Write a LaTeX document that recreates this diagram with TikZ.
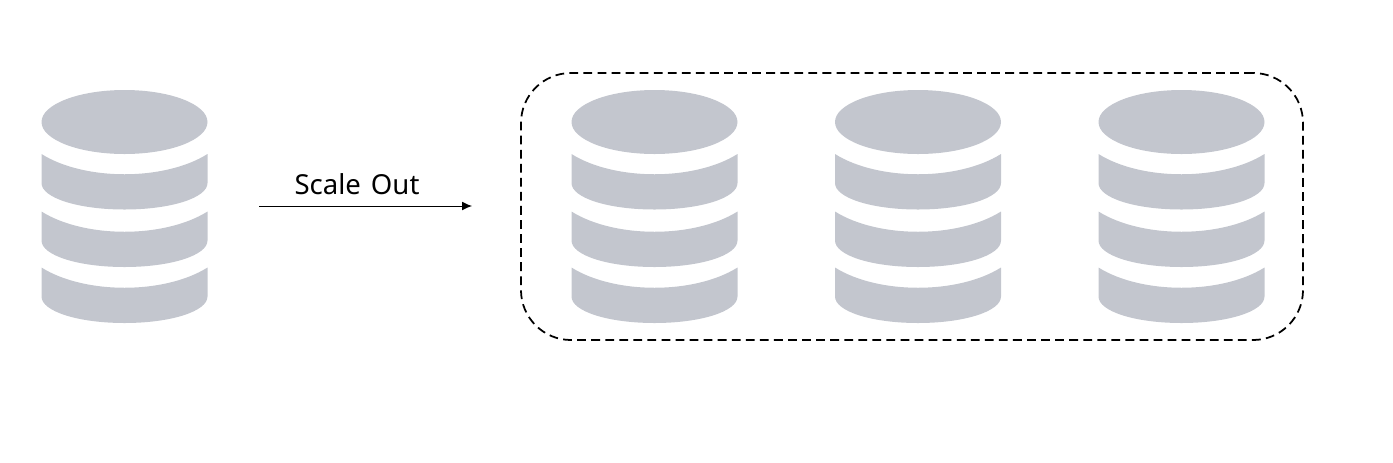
\documentclass[tikz,border=0pt]{standalone}
\usepackage{fontspec}
\setmainfont[WordSpace=1.4]{Noto Sans}
\usetikzlibrary{arrows.meta}
\definecolor{Disk}{HTML}{C3C6CE}
\tikzset{
    diskfill/.style={fill=Disk, draw=none},
    arrow/.style={-{Latex[length=8.5pt,width=7.5pt]}, line width=0.85pt, color=black},
    cluster/.style={draw=black, line width=1.5pt, dash pattern=on 7.5pt off 4.5pt, rounded corners=1.5cm},
    arrowlabel/.style={font=\fontsize{23.5}{28}\selectfont, text=black, inner sep=0pt},
    pics/dbstack/.style={code={
        % Top ellipse
        \path[diskfill] (0, 122) ellipse [x radius=83, y radius=32];
        % Three stacked bands
        \foreach \shift in {0, 57.5, 113.5} {
            \path[diskfill] (-83, 154+\shift) .. controls (-40, 181+\shift) and (40, 181+\shift) .. (83, 154+\shift)
                -- (83, 183+\shift) .. controls (83, 198+\shift) and (46, 209.5+\shift) .. (0, 209.5+\shift)
                .. controls (-46, 209.5+\shift) and (-83, 198+\shift) .. (-83, 183+\shift) -- cycle;
        }
    }},
}
\begin{document}
\begin{tikzpicture}[x=0.03cm, y=-0.03cm]
    \useasboundingbox (0, 0) rectangle (1393, 462);

    % Single database
    \pic (dbsingle) at (124.5, 0) {dbstack};

    % Scaled out databases
    \foreach \dbx/\dbname in {654.5/dba, 918/dbb, 1181.5/dbc} {
        \pic (\dbname) at (\dbx, 0) {dbstack};
    }

    % Dashed group
    \node[cluster, minimum width=23.46cm, minimum height=8.01cm] (group) at (912, 206.5) {};

    % Transition arrow
    \coordinate (arrowstart) at (259, 206);
    \coordinate (arrowend) at (472, 206);
    \draw[arrow] (arrowstart) -- (arrowend);
    \node[arrowlabel] (scalelabel) at (357, 184) {Scale Out};
\end{tikzpicture}
\end{document}
